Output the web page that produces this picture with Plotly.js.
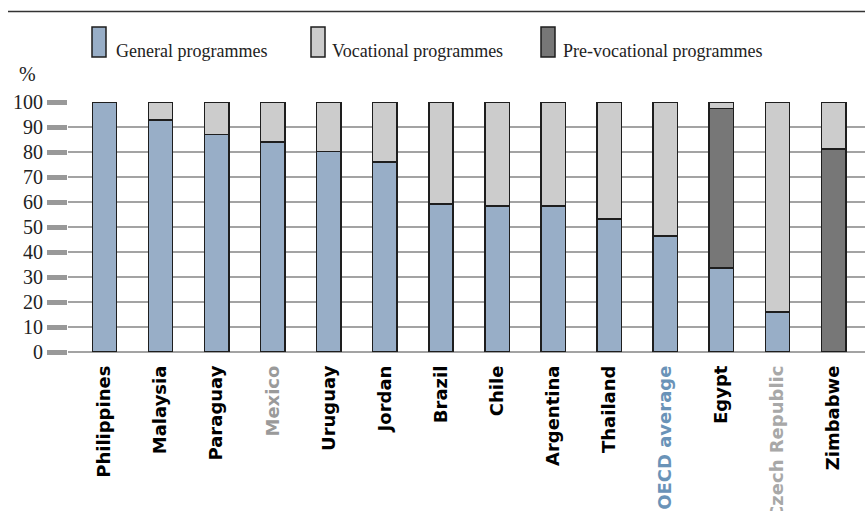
<!DOCTYPE html>
<html>
<head>
<meta charset="utf-8">
<script src="https://cdn.plot.ly/plotly-3.0.1.min.js"></script>
<style>html,body{margin:0;padding:0;background:#fff;}#chart{width:865px;height:511px;}</style>
</head>
<body>
<div id="chart"></div>
<script>
// ---- data ----
var countries = ["Philippines","Malaysia","Paraguay","Mexico","Uruguay","Jordan","Brazil","Chile","Argentina","Thailand","OECD average","Egypt","Czech Republic","Zimbabwe"];
var general    = [100, 92.8, 87.1, 84.1, 80.3, 76.0, 59.3, 58.4, 58.4, 53.2, 46.5, 33.7, 16.0, null];
var preVoc     = [null, null, null, null, null, null, null, null, null, null, null, 63.8, null, 81.2];
var vocational = [null, 7.2, 12.9, 15.9, 19.7, 24.0, 40.7, 41.6, 41.6, 46.8, 53.5, 2.5, 84.0, 18.8];
var seriesNames = ["General programmes","Vocational programmes","Pre-vocational programmes"];
var yTicks = [0,10,20,30,40,50,60,70,80,90,100];
var labelColors = {"Mexico":"#9a9a9a","Czech Republic":"#a8a8a8","OECD average":"#6a93b8"};

// ---- style ----
var colGen = "#98aec7", colVoc = "#cccccc", colPre = "#777777", edge = "#1e1e1e";
var W = 865, H = 511, L = 68, R = 865, T = 102, B = 352;
function px(x){ return (x - L) / (R - L); }
function py(y){ return (B - y) / (B - T); }

var ticktext = countries.map(function(c){
  var col = labelColors[c] || "#000";
  return '<span style="color:' + col + '">' + c + '</span>';
});
var idx = countries.map(function(_, i){ return i; });

function bar(name, vals, color){
  return {type:"bar", name:name, x:idx, y:vals,
    marker:{color:color, line:{color:edge, width:1.5}},
    showlegend:false, hoverinfo:"skip"};
}
var data = [
  bar(seriesNames[0], general, colGen),
  bar(seriesNames[2], preVoc, colPre),
  bar(seriesNames[1], vocational, colVoc)
];

var shapes = [{type:"line", xref:"paper", yref:"paper", x0:px(8), x1:px(865), y0:py(11.5), y1:py(11.5), line:{color:"#333", width:1.5}}];
var annotations = [{xref:"paper", yref:"paper", x:px(27), y:py(74), text:"%", showarrow:false, xanchor:"center", yanchor:"middle", font:{family:"Liberation Serif, serif", size:20, color:"#222"}}];
var legendItems = [
  {x:92, tx:114, name:seriesNames[0], color:colGen},
  {x:311, tx:330, name:seriesNames[1], color:colVoc},
  {x:541, tx:561, name:seriesNames[2], color:colPre}
];
legendItems.forEach(function(it){
  shapes.push({type:"rect", xref:"paper", yref:"paper", x0:px(it.x), x1:px(it.x+14), y0:py(27), y1:py(57), fillcolor:it.color, line:{color:edge, width:1.5}});
  annotations.push({xref:"paper", yref:"paper", x:px(it.tx), y:py(50.5), text:it.name, showarrow:false, xanchor:"left", yanchor:"middle", font:{family:"Liberation Serif, serif", size:18, color:"#222"}});
});

var layout = {
  width:W, height:H,
  margin:{l:L, r:W-R, t:T, b:H-B, pad:0},
  paper_bgcolor:"#fff", plot_bgcolor:"#fff",
  barmode:"stack", bargap:0.565,
  showlegend:false,
  xaxis:{range:[-0.65, 13.56], tickvals:idx, ticktext:ticktext, tickangle:-90,
    ticks:"", showgrid:false, zeroline:false, showline:false,
    tickfont:{family:"DejaVu Sans, sans-serif", size:18, weight:"bold", color:"#000"},
    ticklabelstandoff:9, automargin:false, fixedrange:true},
  yaxis:{range:[0,100], tickvals:yTicks, ticks:"outside", ticklen:20, tickwidth:5, tickcolor:"#999",
    showgrid:true, gridcolor:"#a3a3a3", gridwidth:1.5, zeroline:true, zerolinecolor:"#a3a3a3", zerolinewidth:1.5,
    showline:false,
    tickfont:{family:"Liberation Serif, serif", size:20, color:"#222"},
    automargin:false, fixedrange:true},
  shapes:shapes, annotations:annotations
};
Plotly.newPlot("chart", data, layout, {displayModeBar:false, staticPlot:true});
</script>
</body>
</html>
